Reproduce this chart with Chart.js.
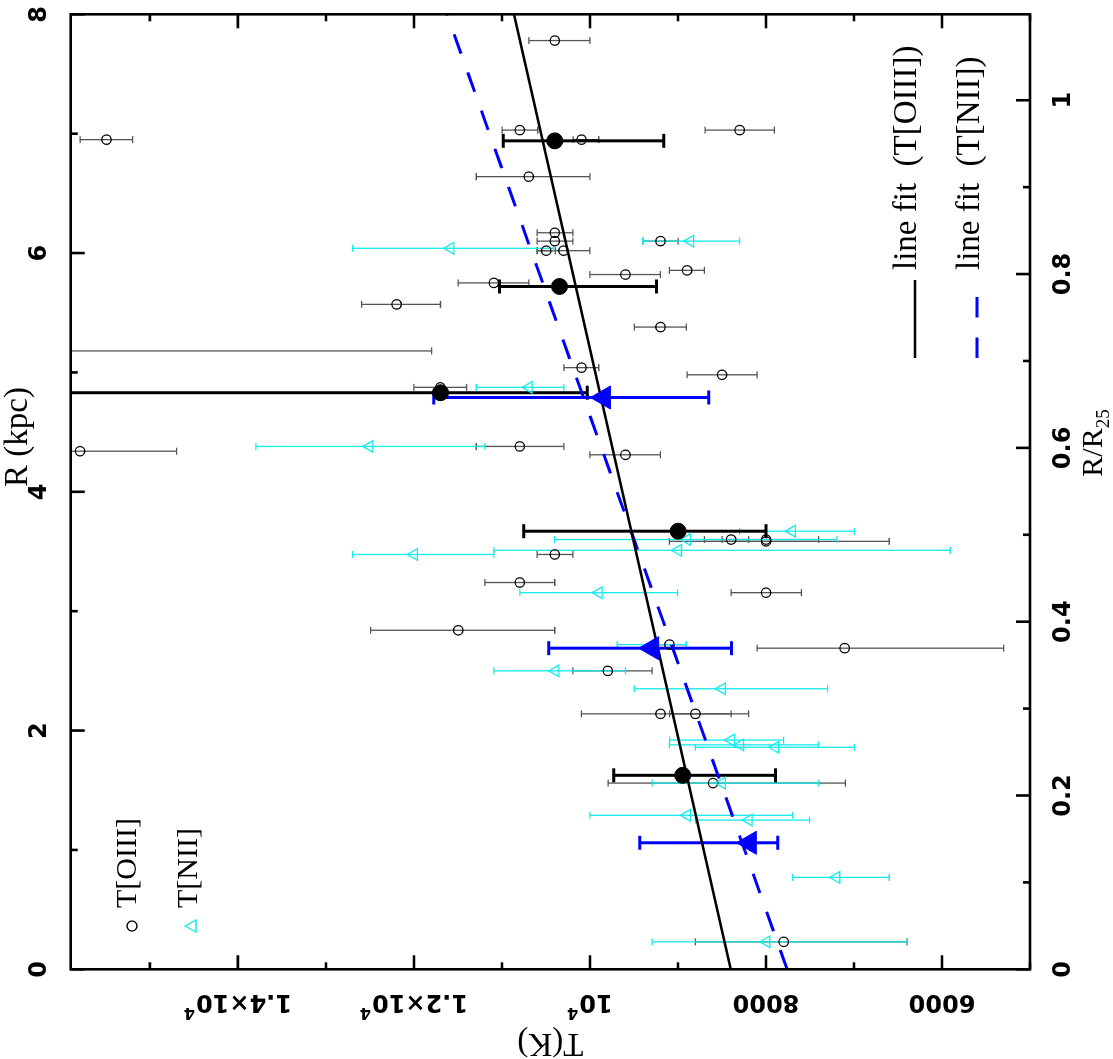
<!DOCTYPE html>
<html>
<head>
<meta charset="utf-8">
<script src="https://cdn.jsdelivr.net/npm/chart.js@4.4.0/dist/chart.umd.min.js"></script>
<style>
  html, body { margin: 0; padding: 0; background: #fff; }
  #wrap { position: relative; width: 1113px; height: 1059px; overflow: hidden; background: #fff; }
  /* the plot is drawn upright (R along x, T along y) and turned a quarter turn left */
  #chart { position: absolute; left: 0; top: 0; transform-origin: 0 0; transform: translate(0, 1059px) rotate(-90deg); }
</style>
</head>
<body>
<div id="wrap"><canvas id="chart" width="1059" height="1113"></canvas></div>
<script>
const R25 = 7.28; // kpc

// T[OIII] single regions: radius (kpc), T (K), upper and lower end of the error bar
const oiiiR  = [7.78, 6.95, 7.03, 7.03, 6.95, 6.64, 6.17, 6.10, 6.02, 6.02, 6.10, 5.82, 5.855, 5.75, 5.57, 5.38, 5.04, 4.98, 4.875, 4.34, 4.38, 4.31, 3.60, 3.60, 3.585, 3.475, 3.24, 3.155, 2.84, 2.72, 2.69, 2.50, 2.14, 2.14, 1.56, 0.23, 5.18];
const oiiiT  = [10400, 15494, 10797, 8299, 10096, 10695, 10400, 10400, 10497, 10301, 9199, 9597, 8896, 11092, 12197, 9199, 10096, 8499, 11701, 15794, 10797, 9597, 8396, 7999, 7999, 10400, 10797, 7999, 11497, 9097, 7106, 9798, 9199, 8802, 8601, 7799, 16600];
const oiiiHi = [10695, 15794, 10997, 8692, 10191, 11292, 10600, 10600, 10600, 10600, 9400, 10002, 9097, 11497, 12595, 9495, 10297, 8896, 12001, 16900, 11292, 10002, 8700, 8499, 9097, 10600, 11195, 8396, 12493, 9290, 8101, 10195, 10097, 9094, 9793, 8802, 21400];
const oiiiLo = [10002, 15196, 10593, 7905, 9900, 10002, 10195, 10195, 10392, 10002, 8998, 9199, 8700, 10695, 11698, 8904, 9900, 8101, 11402, 14696, 10297, 9199, 8196, 7401, 6599, 10195, 10400, 7598, 10400, 8904, 5300, 9294, 8196, 8396, 7098, 6397, 11800];

// T[NII] single regions
const niiR  = [6.04, 6.10, 4.875, 4.38, 3.67, 3.60, 3.51, 3.475, 3.155, 2.72, 2.50, 2.35, 1.92, 1.88, 1.86, 1.56, 1.29, 1.25, 0.77, 0.23];
const niiT  = [11584, 8859, 10695, 12504, 7704, 8896, 8998, 12000, 9899, 9296, 10392, 8499, 8396, 8291, 7893, 8499, 8896, 8196, 7200, 7995];
const niiHi = [12697, 9400, 11292, 13795, 8299, 10400, 11092, 12697, 10797, 9691, 11092, 9495, 9094, 9097, 8802, 9294, 10002, 8802, 7697, 9294];
const niiLo = [10414, 8299, 10297, 11195, 6996, 7192, 5906, 11092, 9003, 8904, 9597, 7299, 7799, 7401, 6996, 7401, 7697, 7504, 6599, 6397];

// binned means
const binOR  = [6.94, 5.72, 4.83, 3.67, 1.625];
const binOT  = [10400, 10346, 11698, 8998, 8946];
const binOHi = [10986, 11028, 17500, 10752, 9730];
const binOLo = [9162, 9245, 10032, 7999, 7893];

const binNR  = [4.79, 2.69, 1.06];
const binNT  = [9843, 9295, 8185];
const binNHi = [11774, 10468, 9434];
const binNLo = [8651, 8393, 7867];

// straight line fits, end points
const fitR     = [0, 8];
const oiiiFitT = [8400, 10864];
const niiFitT  = [7760, 11624];

// axes
const rTicks   = [0, 2, 4, 6, 8];
const rMinor   = [1, 3, 5, 7];
const r25Ticks = [0, 0.2, 0.4, 0.6, 0.8, 1];
const r25Labels = ['0', '0.2', '0.4', '0.6', '0.8', '1'];
const r25Minor = [0.1, 0.3, 0.5, 0.7, 0.9];
const tTicks   = [6000, 8000, 10000, 12000, 14000];
const tLabels  = ['6000', '8000', '10^4', '1.2\u00d710^4', '1.4\u00d710^4'];
const tMinor   = [5000, 7000, 9000, 11000, 13000, 15000];

const CYAN = 'rgb(20,235,235)';
const BLUE = 'rgb(0,0,255)';
const NUM_FONT = '"DejaVu Sans", sans-serif';
const TXT_FONT = '"Liberation Serif", "DejaVu Serif", serif';

const pts = (xs, ys) => xs.map((x, i) => ({ x: x, y: ys[i] }));

function bars(ctx, sx, sy, rs, his, los, color, width, cap) {
  ctx.strokeStyle = color;
  ctx.lineWidth = width;
  rs.forEach((r, i) => {
    const x = sx.getPixelForValue(r);
    const y1 = sy.getPixelForValue(his[i]);
    const y2 = sy.getPixelForValue(los[i]);
    ctx.beginPath();
    ctx.moveTo(x, y1); ctx.lineTo(x, y2);
    ctx.moveTo(x - cap, y1); ctx.lineTo(x + cap, y1);
    ctx.moveTo(x - cap, y2); ctx.lineTo(x + cap, y2);
    ctx.stroke();
  });
}

// text with a "^" exponent, centred on 0,0
function expText(ctx, str, size) {
  const parts = str.split('^');
  const big = 'bold ' + size + 'px ' + NUM_FONT;
  const small = 'bold ' + Math.round(size * 0.65) + 'px ' + NUM_FONT;
  ctx.font = big;
  const w1 = ctx.measureText(parts[0]).width;
  let w2 = 0;
  if (parts[1]) {
    ctx.font = small;
    w2 = ctx.measureText(parts[1]).width + 1;
  }
  const x0 = -(w1 + w2) / 2;
  ctx.textAlign = 'left';
  ctx.textBaseline = 'middle';
  ctx.font = big;
  ctx.fillText(parts[0], x0, 0);
  if (parts[1]) {
    ctx.font = small;
    ctx.fillText(parts[1], x0 + w1 + 1, -size * 0.45);
  }
}

const decor = {
  id: 'decor',
  beforeDatasetsDraw(chart) {
    const { ctx, chartArea: a, scales } = chart;
    const sx = scales.x, sy = scales.y;
    ctx.save();
    ctx.beginPath();
    ctx.rect(a.left, a.top, a.right - a.left, a.bottom - a.top);
    ctx.clip();
    bars(ctx, sx, sy, oiiiR, oiiiHi, oiiiLo, '#555', 1.3, 3.5);
    bars(ctx, sx, sy, niiR, niiHi, niiLo, CYAN, 1.3, 3.5);
    bars(ctx, sx, sy, binOR, binOHi, binOLo, '#000', 3, 7);
    bars(ctx, sx, sy, binNR, binNHi, binNLo, BLUE, 3, 7);
    ctx.restore();
  },
  afterDraw(chart) {
    const { ctx, chartArea: a, scales } = chart;
    const sx = scales.x, sy = scales.y, sr = scales.xr;
    ctx.save();
    ctx.strokeStyle = '#000';
    ctx.fillStyle = '#000';
    ctx.lineWidth = 2.6;
    ctx.strokeRect(a.left, a.top, a.right - a.left, a.bottom - a.top);

    ctx.beginPath();
    // R (kpc) ticks along the top edge
    rTicks.concat(rMinor).forEach(v => {
      const x = sx.getPixelForValue(v), len = rTicks.includes(v) ? 14 : 7;
      ctx.moveTo(x, a.top); ctx.lineTo(x, a.top + len);
    });
    // R/R25 ticks along the bottom edge
    r25Ticks.concat(r25Minor).forEach(v => {
      const x = sr.getPixelForValue(v), len = r25Ticks.includes(v) ? 14 : 7;
      ctx.moveTo(x, a.bottom); ctx.lineTo(x, a.bottom - len);
    });
    // T ticks on both sides
    tTicks.concat(tMinor).forEach(v => {
      const y = sy.getPixelForValue(v), len = tTicks.includes(v) ? 14 : 7;
      ctx.moveTo(a.left, y); ctx.lineTo(a.left + len, y);
      ctx.moveTo(a.right, y); ctx.lineTo(a.right - len, y);
    });
    ctx.stroke();

    // tick labels
    ctx.textAlign = 'center';
    ctx.textBaseline = 'middle';
    ctx.font = 'bold 24px ' + NUM_FONT;
    rTicks.forEach(v => ctx.fillText(String(v), sx.getPixelForValue(v), 40));
    r25Ticks.forEach((v, i) => ctx.fillText(r25Labels[i], sr.getPixelForValue(v), 1064));
    tTicks.forEach((v, i) => {
      ctx.save();
      ctx.translate(58, sy.getPixelForValue(v));
      ctx.rotate(-Math.PI / 2);
      expText(ctx, tLabels[i], 24);
      ctx.restore();
    });

    // axis titles
    ctx.font = '33px ' + TXT_FONT;
    ctx.textAlign = 'center';
    ctx.textBaseline = 'alphabetic';
    ctx.fillText('R (kpc)', 622, 27);
    ctx.save();
    ctx.translate(16, (a.top + a.bottom) / 2);
    ctx.rotate(-Math.PI / 2);
    ctx.textBaseline = 'middle';
    ctx.fillText('T(K)', 0, 0);
    ctx.restore();
    // R/R25
    ctx.textAlign = 'left';
    ctx.font = '30px ' + TXT_FONT;
    const wR = ctx.measureText('R/R').width;
    ctx.font = '19px ' + TXT_FONT;
    const wS = ctx.measureText('25').width;
    const x0 = 616 - (wR + wS) / 2;
    ctx.fillText('25', x0 + wR, 1109);
    ctx.font = '30px ' + TXT_FONT;
    ctx.fillText('R/R', x0, 1102);

    // legend, lower left of the rotated picture
    ctx.font = '30px ' + TXT_FONT;
    ctx.fillText('T[OIII]', 151, 136);
    ctx.fillText('T[NII]', 151, 197);
    ctx.lineWidth = 1.3;
    ctx.beginPath();
    ctx.arc(133, 132, 5, 0, Math.PI * 2);
    ctx.stroke();
    ctx.strokeStyle = CYAN;
    ctx.beginPath();
    ctx.moveTo(133, 185); ctx.lineTo(139, 196); ctx.lineTo(127, 196); ctx.closePath();
    ctx.stroke();

    // legend for the fits
    ctx.font = '33px ' + TXT_FONT;
    ctx.fillText('line fit  (T[OIII])', 789, 916);
    ctx.fillText('line fit  (T[NII])', 789, 979);
    ctx.strokeStyle = '#000';
    ctx.lineWidth = 2.5;
    ctx.beginPath(); ctx.moveTo(701, 915); ctx.lineTo(779, 915); ctx.stroke();
    ctx.strokeStyle = BLUE;
    ctx.lineWidth = 3;
    ctx.setLineDash([20.5, 20]);
    ctx.beginPath(); ctx.moveTo(701, 977); ctx.lineTo(779, 977); ctx.stroke();
    ctx.restore();
  }
};

const hidden = { ticks: { display: false }, grid: { display: false }, border: { display: false } };

new Chart(document.getElementById('chart'), {
  type: 'scatter',
  data: {
    datasets: [
      { label: 'binned T[NII]', data: pts(binNR, binNT), pointStyle: 'triangle', pointRadius: 13.3,
        backgroundColor: BLUE, borderColor: BLUE, borderWidth: 1, order: 0 },
      { label: 'binned T[OIII]', data: pts(binOR, binOT), pointStyle: 'circle', pointRadius: 8,
        backgroundColor: '#000', borderColor: '#000', borderWidth: 1, order: 1 },
      { label: 'line fit (T[OIII])', type: 'line', data: pts(fitR, oiiiFitT), borderColor: '#000',
        borderWidth: 2.5, pointRadius: 0, fill: false, order: 2 },
      { label: 'line fit (T[NII])', type: 'line', data: pts(fitR, niiFitT), borderColor: BLUE,
        borderWidth: 3, borderDash: [20.5, 20], pointRadius: 0, fill: false, order: 3 },
      { label: 'T[NII]', data: pts(niiR, niiT), pointStyle: 'triangle', pointRadius: 6.7,
        backgroundColor: 'rgba(0,0,0,0)', borderColor: CYAN, borderWidth: 1.3, order: 4 },
      { label: 'T[OIII]', data: pts(oiiiR, oiiiT), pointStyle: 'circle', pointRadius: 4.7,
        backgroundColor: 'rgba(0,0,0,0)', borderColor: '#000', borderWidth: 1.3, order: 5 }
    ]
  },
  options: {
    responsive: false,
    animation: false,
    devicePixelRatio: 1,
    events: [],
    layout: { padding: { left: 0, right: 9.3, top: 0, bottom: 0 } },
    plugins: { legend: { display: false }, tooltip: { enabled: false } },
    scales: {
      x: { type: 'linear', position: 'top', min: 0, max: 8, ...hidden,
           afterFit: s => { s.height = 70.7; } },
      xr: { type: 'linear', position: 'bottom', min: 0, max: 8 / R25, ...hidden,
            afterFit: s => { s.height = 83; } },
      y: { type: 'linear', position: 'left', min: 5000, max: 15900, ...hidden,
           afterFit: s => { s.width = 89.7; } }
    }
  },
  plugins: [decor]
});
</script>
</body>
</html>
